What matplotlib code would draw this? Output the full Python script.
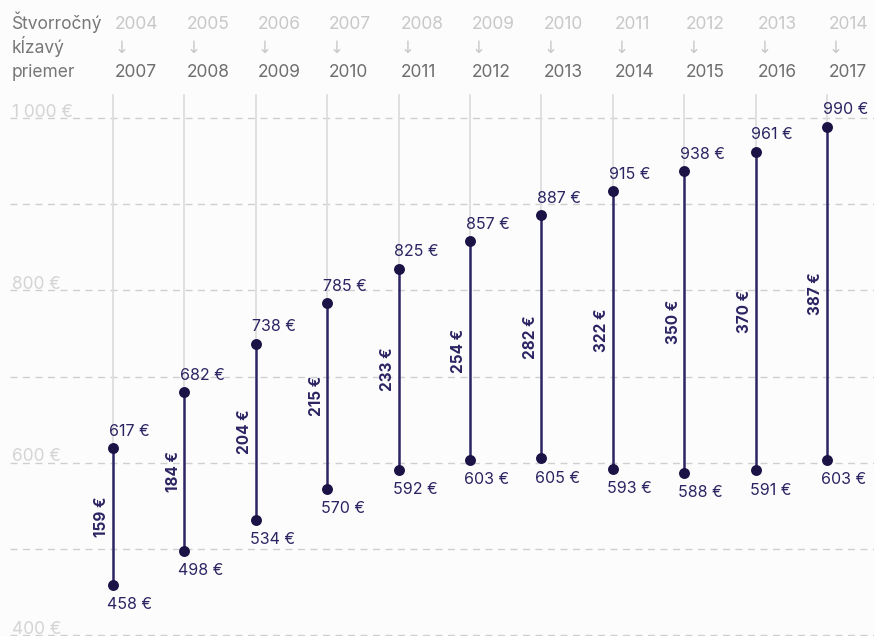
import matplotlib
matplotlib.use("Agg")
import matplotlib.pyplot as plt
from matplotlib.transforms import blended_transform_factory

plt.rcParams['font.family'] = ['Inter', 'DejaVu Sans']

start_years = ['2004', '2005', '2006', '2007', '2008', '2009', '2010', '2011', '2012', '2013', '2014']
end_years = ['2007', '2008', '2009', '2010', '2011', '2012', '2013', '2014', '2015', '2016', '2017']
lows = [458, 498, 534, 570, 592, 603, 605, 593, 588, 591, 603]
highs = [617, 682, 738, 785, 825, 857, 887, 915, 938, 961, 990]
yticks = [400, 500, 600, 700, 800, 900, 1000]
ytick_labels = {400: '400 €', 600: '600 €', 800: '800 €', 1000: '1 000 €'}
header_title = ['Štvorročný', 'kĺzavý', 'priemer']

W, H = 874, 636
DPI = 100
BG = '#fcfcfc'
NAVY_LINE = '#2c2564'
NAVY_DOT = '#1b1246'
NAVY_TEXT = '#2b2462'

fig = plt.figure(figsize=(W / DPI, H / DPI), dpi=DPI, facecolor=BG)
ax = fig.add_axes([0, 0, 1, 1])
ax.set_facecolor(BG)

# pixel mapping
px_per_unit = (635 - 118) / 600.0
y_top = 1000 + 118 / px_per_unit
y_bot = 400 - (H - 635) / px_per_unit
col_x0, col_dx = 113, 71.4
x_left = -col_x0 / col_dx
x_right = (W - col_x0) / col_dx
ax.set_xlim(x_left, x_right)
ax.set_ylim(y_bot, y_top)
ax.axis('off')

def px2x(p):
    return (p - col_x0) / col_dx

# dashed horizontal grid
for v in yticks:
    ax.plot([px2x(10), x_right], [v, v], color='#cfcfcf', lw=1.0,
            ls=(0, (5, 4)), zorder=1)
    if v in ytick_labels:
        ax.text(px2x(12), v + 1.5, ytick_labels[v], color='#d4d4d4', fontsize=12.5,
                ha='left', va='baseline', zorder=2)

grid_top = 1000 + 23 / px_per_unit
n = len(lows)
for i in range(n):
    lo, hi = lows[i], highs[i]
    ax.plot([i, i], [hi, grid_top], color='#dddddd', lw=1.3, zorder=2)
    ax.plot([i, i], [lo, hi], color=NAVY_LINE, lw=1.8, zorder=3)
    ax.scatter([i, i], [lo, hi], s=62, color=NAVY_DOT, zorder=4, linewidths=0)
    ax.annotate(f'{hi} €', (i, hi), xytext=(-3, 9), textcoords='offset points',
                ha='left', va='baseline', fontsize=11.5, color=NAVY_TEXT, zorder=5)
    ax.annotate(f'{lo} €', (i, lo), xytext=(-4.3, -17.5), textcoords='offset points',
                ha='left', va='baseline', fontsize=11.5, color=NAVY_TEXT, zorder=5)
    ax.annotate(f'{hi - lo} €', (i, (lo + hi) / 2), xytext=(-8, 0),
                textcoords='offset points', ha='center', va='center',
                rotation=90, fontsize=11, fontweight='bold', color=NAVY_TEXT,
                zorder=5)

# header
tr = blended_transform_factory(ax.transData, fig.transFigure)
def fy(p):
    return 1 - p / H

for k, t in enumerate(header_title):
    fig.text(12 / W, fy(29 + 24 * k), t, color='#777777', fontsize=12.5,
             ha='left', va='baseline')
for i in range(n):
    ax.text(i + 2 / col_dx, fy(29), start_years[i], transform=tr, color='#c8c8c8',
            fontsize=12.5, ha='left', va='baseline')
    ax.text(i + 2 / col_dx, fy(53), '↓', transform=tr, color='#c8c8c8',
            fontsize=12, ha='left', va='baseline', family=['DejaVu Sans'])
    ax.text(i + 2 / col_dx, fy(77), end_years[i], transform=tr, color='#6e6e6e',
            fontsize=12.5, ha='left', va='baseline')

fig.savefig('out.png', dpi=DPI, facecolor=BG)
